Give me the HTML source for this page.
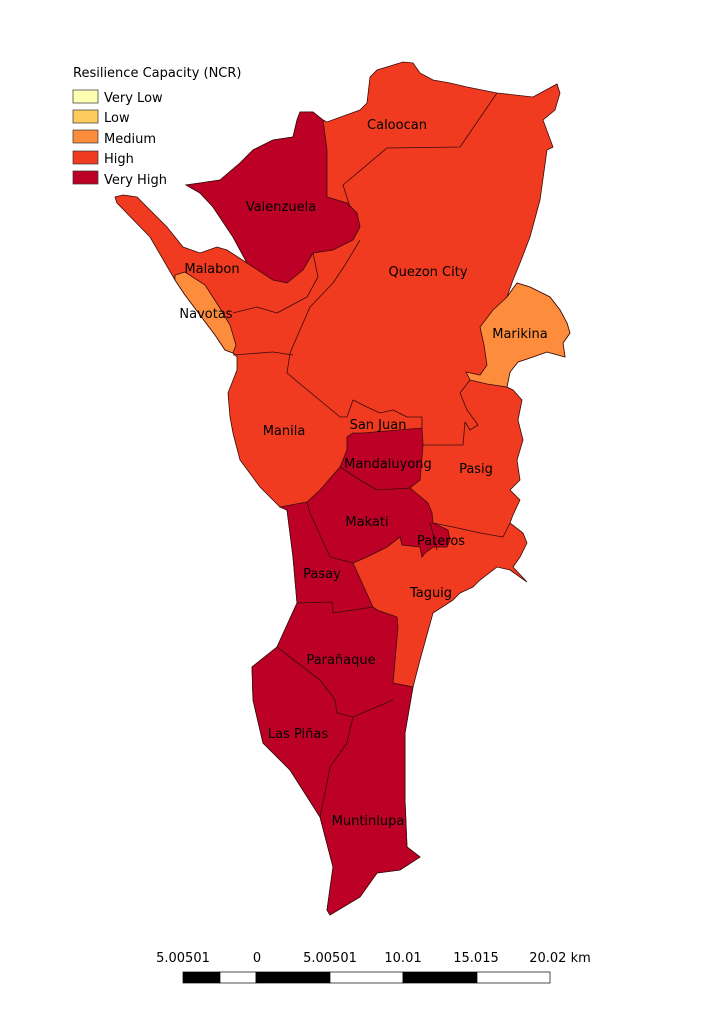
<!DOCTYPE html>
<html><head><meta charset="utf-8"><style>
html,body{margin:0;padding:0;background:#fff;}
svg{display:block;font-family:"DejaVu Sans","Liberation Sans",sans-serif;}
.b{fill:none;stroke:#3a0a0a;stroke-width:0.8;stroke-linejoin:round}
.lbl{font-size:13px;fill:#000;text-anchor:middle}
</style></head><body>
<svg width="724" height="1024" viewBox="0 0 724 1024">
<rect width="724" height="1024" fill="#fff"/>
<g>
<polygon fill="#f03b20" stroke="#3a0a0a" stroke-width="0.8" points="115,197 123,195 137,197 167,227 183,247 200,253 217,247 227,250 247,263 233,237 213,207 200,193 186,185 200,183 220,180 240,163 253,150 273,140 293,137 297,120 300,112 313,112 323,120 327,122 360,110 367,103 370,77 377,70 403,62 413,63 420,73 433,80 450,83 467,87 497,93 533,97 557,84 560,93 555,110 543,120 553,147 547,150 540,200 530,237 520,263 513,280 507,297 517,283 530,287 550,297 560,310 567,323 570,333 563,343 565,357 547,352 530,358 518,362 510,372 507,387 513,390 522,400 518,420 523,440 517,460 520,480 510,490 520,500 513,515 510,523 523,533 527,543 520,557 513,567 527,582 510,570 497,567 480,580 473,587 460,593 453,600 433,613 420,660 413,687 405,733 405,800 407,847 420,857 400,870 377,873 360,897 330,915 327,910 333,867 320,817 290,770 263,743 253,700 252,667 277,647 297,603 293,557 287,510 280,507 260,487 240,460 233,433 230,417 228,393 237,370 237,357 233,353 225,350 215,335 200,315 185,295 175,280 150,237 117,203"/>
<polygon fill="#bd0026" stroke="#3a0a0a" stroke-width="0.8" points="280,507 307,502 320,490 340,467 347,450 347,437 353,433 363,433 422,428 423,445 420,480 410,488 428,503 432,513 433,523 448,530 450,540 447,547 433,547 425,553 422,557 420,547 402,545 400,537 387,547 367,557 353,563 373,607 377,610 397,617 398,627 393,683 413,687 405,733 405,800 407,847 420,857 400,870 377,873 360,897 330,915 327,910 333,867 320,817 290,770 263,743 253,700 252,667 277,647 297,603 293,557 287,510"/>
<polygon fill="#bd0026" stroke="#3a0a0a" stroke-width="0.8" points="186,185 200,193 213,207 233,237 247,263 273,280 287,283 303,270 313,253 333,250 353,240 360,227 357,213 347,203 327,197 327,150 323,120 313,112 300,112 297,120 293,137 273,140 253,150 240,163 220,180 200,183"/>
<polygon fill="#fd8d3c" stroke="#3a0a0a" stroke-width="0.8" points="175,275 185,272 205,285 218,305 230,325 236,345 233,353 225,350 215,335 200,315 185,295 175,280"/>
<polygon fill="#fd8d3c" stroke="#3a0a0a" stroke-width="0.8" points="480,327 493,310 507,297 517,283 530,287 550,297 560,310 567,323 570,333 563,343 565,357 547,352 530,358 518,362 510,372 507,387 487,384 470,380 466,372 480,375 487,365 484,345"/>
<polyline class="b" points="497,93 460,147 387,148 343,185 350,207"/>
<polyline class="b" points="360,240 345,265 333,283 310,307 290,353 287,373 340,417 347,417"/>
<polyline class="b" points="313,253 318,277 307,297 277,313 257,307 233,313"/>
<polyline class="b" points="233,355 273,352 293,355"/>
<polyline class="b" points="347,417 353,400 367,407 380,413 393,410 407,417 422,417 422,428"/>
<polyline class="b" points="470,380 460,393 467,410 478,425 470,430 465,422 463,445 423,445"/>
<polyline class="b" points="340,467 360,480 377,490 410,488"/>
<polyline class="b" points="433,523 453,527 480,533 503,537 510,523"/>
<polyline class="b" points="307,502 310,513 330,557 353,563"/>
<polyline class="b" points="297,603 332,602 333,613 373,607"/>
<polyline class="b" points="277,647 303,667 320,680 330,693 335,700 337,713 353,717 393,700"/>
<polyline class="b" points="353,717 347,743 330,767 327,783 320,817"/>
<polyline class="b" points="430,522 437,550"/>
</g>
<g>
<text class="lbl" x="397" y="129">Caloocan</text>
<text class="lbl" x="281" y="211">Valenzuela</text>
<text class="lbl" x="212" y="273">Malabon</text>
<text class="lbl" x="428" y="276">Quezon City</text>
<text class="lbl" x="206" y="318">Navotas</text>
<text class="lbl" x="520" y="338">Marikina</text>
<text class="lbl" x="378" y="429">San Juan</text>
<text class="lbl" x="284" y="435">Manila</text>
<text class="lbl" x="388" y="468">Mandaluyong</text>
<text class="lbl" x="476" y="473">Pasig</text>
<text class="lbl" x="367" y="526">Makati</text>
<text class="lbl" x="441" y="545">Pateros</text>
<text class="lbl" x="322" y="578">Pasay</text>
<text class="lbl" x="431" y="597">Taguig</text>
<text class="lbl" x="341" y="664">Parañaque</text>
<text class="lbl" x="298" y="738">Las Piñas</text>
<text class="lbl" x="368" y="825">Muntinlupa</text>
</g>
<g font-size="13">
<text x="73" y="77">Resilience Capacity (NCR)</text>
<rect x="73" y="90" width="25" height="13" fill="#ffffb2" stroke="#333" stroke-width="0.7"/>
<text x="104" y="102">Very Low</text>
<rect x="73" y="110" width="25" height="13" fill="#fecc5c" stroke="#333" stroke-width="0.7"/>
<text x="104" y="122">Low</text>
<rect x="73" y="130" width="25" height="13" fill="#fd8d3c" stroke="#333" stroke-width="0.7"/>
<text x="104" y="143">Medium</text>
<rect x="73" y="151" width="25" height="13" fill="#f03b20" stroke="#333" stroke-width="0.7"/>
<text x="104" y="163">High</text>
<rect x="73" y="171" width="25" height="13" fill="#bd0026" stroke="#333" stroke-width="0.7"/>
<text x="104" y="184">Very High</text>
</g>
<g font-size="13" text-anchor="middle">
<text x="183" y="962">5.00501</text>
<text x="257" y="962">0</text>
<text x="330" y="962">5.00501</text>
<text x="403" y="962">10.01</text>
<text x="476" y="962">15.015</text>
<text x="560" y="962">20.02 km</text>
<rect x="183" y="972" width="37" height="11" fill="#000" stroke="#000" stroke-width="0.7"/>
<rect x="220" y="972" width="36" height="11" fill="#fff" stroke="#000" stroke-width="0.7"/>
<rect x="256" y="972" width="74" height="11" fill="#000" stroke="#000" stroke-width="0.7"/>
<rect x="330" y="972" width="73" height="11" fill="#fff" stroke="#000" stroke-width="0.7"/>
<rect x="403" y="972" width="74" height="11" fill="#000" stroke="#000" stroke-width="0.7"/>
<rect x="477" y="972" width="73" height="11" fill="#fff" stroke="#000" stroke-width="0.7"/>
</g>
</svg>
</body></html>
